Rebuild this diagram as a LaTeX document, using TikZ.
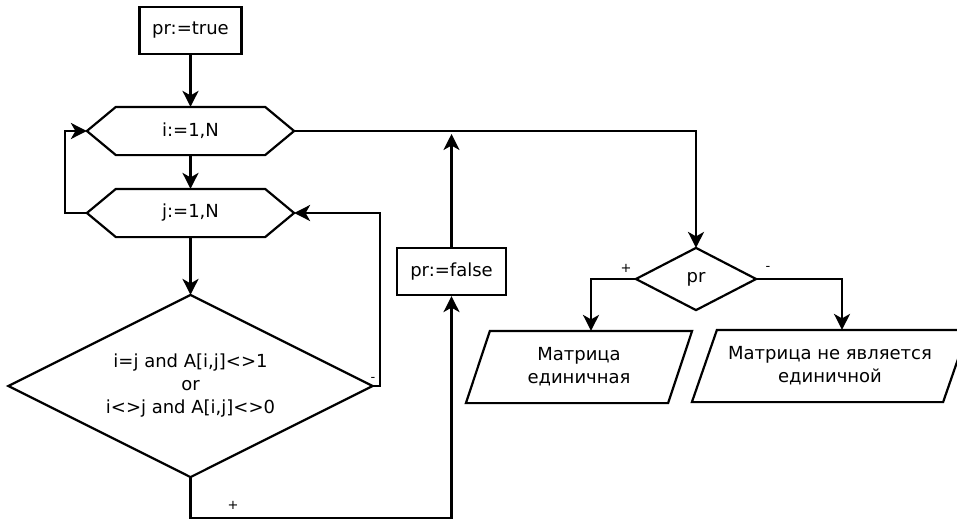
\documentclass[tikz,border=0pt]{standalone}
\usepackage{fontspec}
\setmainfont{DejaVu Sans}
\usetikzlibrary{arrows.meta}
\begin{document}
\begin{tikzpicture}[x=1pt,y=-1pt,
  line width=2.2pt,
  font=\fontsize{18}{23}\selectfont,
  box/.style={draw,rectangle,inner sep=0pt},
  holder/.style={rectangle,inner sep=0pt,align=center},
  arr/.style={-{Stealth[length=16pt,width=16pt,inset=4.5pt]}},
  lbl/.style={font=\fontsize{13}{15}\selectfont,inner sep=0pt}]
\useasboundingbox (0,0) rectangle (957,519);
\clip (0,0) rectangle (957,519);

\node[box,minimum width=102pt,minimum height=47pt] (start) at (190.5,30.5) {pr:=true};

\node[holder,minimum width=205pt,minimum height=46pt] (h1) at (190.5,131) {i:=1,N};
\draw (h1.west) -- ([xshift=29pt]h1.north west) -- ([xshift=-29pt]h1.north east) -- (h1.east) -- ([xshift=-29pt]h1.south east) -- ([xshift=29pt]h1.south west) -- cycle;

\node[holder,minimum width=205pt,minimum height=46pt] (h2) at (190.5,213) {j:=1,N};
\draw (h2.west) -- ([xshift=29pt]h2.north west) -- ([xshift=-29pt]h2.north east) -- (h2.east) -- ([xshift=-29pt]h2.south east) -- ([xshift=29pt]h2.south west) -- cycle;

\node[holder,minimum width=362pt,minimum height=180pt] (d1) at (190.5,386) {i=j and A[i,j]<>1\\or\\i<>j and A[i,j]<>0};
\draw (d1.west) -- (d1.north) -- (d1.east) -- (d1.south) -- cycle;

\node[box,minimum width=109pt,minimum height=47pt] (pf) at (451.5,271.5) {pr:=false};

\node[holder,minimum width=118pt,minimum height=60pt] (d2) at (696,279) {pr};
\draw (d2.west) -- (d2.north) -- (d2.east) -- (d2.south) -- cycle;

\node[holder,minimum width=224pt,minimum height=70pt] (p1) at (579,367) {Матрица\\единичная};
\draw ([xshift=24pt]p1.north west) -- (p1.north east) -- ([xshift=-24pt]p1.south east) -- (p1.south west) -- cycle;

\node[holder,minimum width=274pt,minimum height=70pt] (p2) at (830,366) {Матрица не является\\единичной};
\draw ([xshift=25pt]p2.north west) -- (p2.north east) -- ([xshift=-25pt]p2.south east) -- (p2.south west) -- cycle;

\coordinate (merge) at (451.5,134);

\draw[arr] (start) -- (h1);
\draw[arr] (h1) -- (h2);
\draw[arr] (h2) -- (d1);
\draw[arr] (h2.west) -- ++(-22,0) |- (h1.west);
\draw[arr] (d1.east) -- ++(7,0) |- (h2.east);
\draw[arr] (d1.south) -- ++(0,41) -| (pf.south);
\draw[arr] (pf.north) -- (merge);
\draw[arr] (h1.east) -| (d2.north);
\draw[arr] (d2.west) -| ([xshift=12pt]p1.north);
\draw[arr] (d2.east) -| ([xshift=12pt]p2.north);

\node[lbl] (lplus1) at (233,505) {+};
\node[lbl] (lminus1) at (373,379) {-};
\node[lbl] (lplus2) at (626,268) {+};
\node[lbl] (lminus2) at (768,268) {-};
\end{tikzpicture}
\end{document}
